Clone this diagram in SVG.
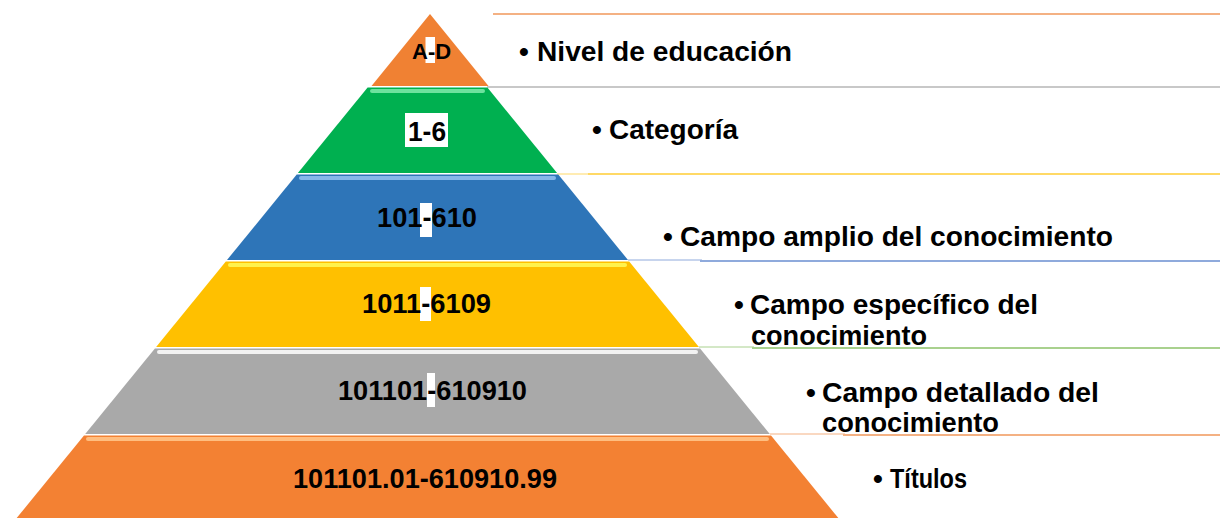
<svg xmlns="http://www.w3.org/2000/svg" width="1220" height="518" viewBox="0 0 1220 518">
<defs>
<style>
.lbl{font-family:"Liberation Sans",Arial,sans-serif;font-weight:bold;font-size:28px;fill:#000}
.txt{font-family:"Liberation Sans",Arial,sans-serif;font-weight:bold;font-size:28px;fill:#000}
.hl{stroke-linecap:round;stroke-width:4;fill:none}
.ln{fill:none;stroke-width:2}
.thin{fill:none;stroke-width:1}
</style>
</defs>
<rect width="1220" height="518" fill="#fff"/>
<g id="lines">
<line class="ln" x1="493" y1="14" x2="1220" y2="14" stroke="#F4B183"/>
<line class="ln" x1="487" y1="87" x2="1220" y2="87" stroke="#C8C8C8"/>
<line class="thin" x1="557" y1="174" x2="590" y2="174" stroke="#FFD966"/>
<line class="ln" x1="588" y1="174" x2="1220" y2="174" stroke="#FFD966"/>
<line class="thin" x1="628" y1="260" x2="702" y2="260" stroke="#8FAADC"/>
<line class="ln" x1="700" y1="261" x2="1220" y2="261" stroke="#8FAADC"/>
<line class="thin" x1="699" y1="347" x2="754" y2="347" stroke="#A9D18E"/>
<line class="ln" x1="752" y1="348" x2="1220" y2="348" stroke="#A9D18E"/>
<line class="thin" x1="770" y1="434" x2="845" y2="434" stroke="#F4B183"/>
<line class="ln" x1="843" y1="435" x2="1220" y2="435" stroke="#F4B183"/>
</g>
<g id="level-1">
<polygon points="430,14 371.5,86 488.5,86" fill="#F08133"/>
<rect x="425.5" y="37" width="9.5" height="26" fill="#fff"/>
<text class="lbl" x="412" y="59" style="font-size:22px">A-D</text>
<text class="txt" x="519" y="61">•</text>
<text class="txt" x="537" y="61" textLength="255" lengthAdjust="spacingAndGlyphs">Nivel de educación</text>
</g>
<g id="level-2">
<polygon points="367.6,87.5 487.4,87.5 557.1,173 297.9,173" fill="#00B050"/>
<line class="hl" x1="372" y1="91" x2="483" y2="91" stroke="#6EE29E"/>
<rect x="405" y="113" width="43" height="34" fill="#fff"/>
<text class="lbl" x="408" y="141" textLength="38" lengthAdjust="spacingAndGlyphs">1-6</text>
<text class="txt" x="592" y="139">•</text>
<text class="txt" x="609" y="139" textLength="129" lengthAdjust="spacingAndGlyphs">Categoría</text>
</g>
<g id="level-3">
<polygon points="296.7,174.5 558.3,174.5 628,260 227,260" fill="#2E75B8"/>
<line class="hl" x1="301" y1="178" x2="554" y2="178" stroke="#86B8EA"/>
<rect x="420" y="203" width="12" height="34" fill="#fff"/>
<text class="lbl" x="377" y="227" textLength="100" lengthAdjust="spacingAndGlyphs">101-610</text>
<text class="txt" x="663" y="246">•</text>
<text class="txt" x="680" y="246" textLength="433" lengthAdjust="spacingAndGlyphs">Campo amplio del conocimiento</text>
</g>
<g id="level-4">
<polygon points="225.8,261.5 629.2,261.5 698.9,347 156.1,347" fill="#FFC000"/>
<line class="hl" x1="230" y1="265" x2="625" y2="265" stroke="#FFF24D"/>
<rect x="420" y="287" width="11" height="34" fill="#fff"/>
<text class="lbl" x="362" y="313" textLength="129" lengthAdjust="spacingAndGlyphs">1011-6109</text>
<text class="txt" x="734" y="314">•</text>
<text class="txt" x="750" y="314" textLength="288" lengthAdjust="spacingAndGlyphs">Campo específico del</text>
<text class="txt" x="751" y="345" textLength="176" lengthAdjust="spacingAndGlyphs">conocimiento</text>
</g>
<g id="level-5">
<polygon points="154.9,348.5 700.1,348.5 769.8,434 85.2,434" fill="#A9A9A9"/>
<line class="hl" x1="159" y1="352" x2="696" y2="352" stroke="#F2F2F2"/>
<rect x="427" y="373" width="8" height="34" fill="#fff"/>
<text class="lbl" x="338" y="400" textLength="189" lengthAdjust="spacingAndGlyphs">101101-610910</text>
<text class="txt" x="806" y="402">•</text>
<text class="txt" x="822" y="402" textLength="277" lengthAdjust="spacingAndGlyphs">Campo detallado del</text>
<text class="txt" x="822" y="432" textLength="177" lengthAdjust="spacingAndGlyphs">conocimiento</text>
</g>
<g id="level-6">
<polygon points="84,435.5 771,435.5 838.3,518 16.7,518" fill="#F38133"/>
<line class="hl" x1="88" y1="439" x2="767" y2="439" stroke="#FFBE80"/>
<text class="lbl" x="293" y="488" textLength="264" lengthAdjust="spacingAndGlyphs">101101.01-610910.99</text>
<text class="txt" x="873" y="488">•</text>
<text class="txt" x="890" y="488" textLength="77" lengthAdjust="spacingAndGlyphs">Títulos</text>
</g>
</svg>
